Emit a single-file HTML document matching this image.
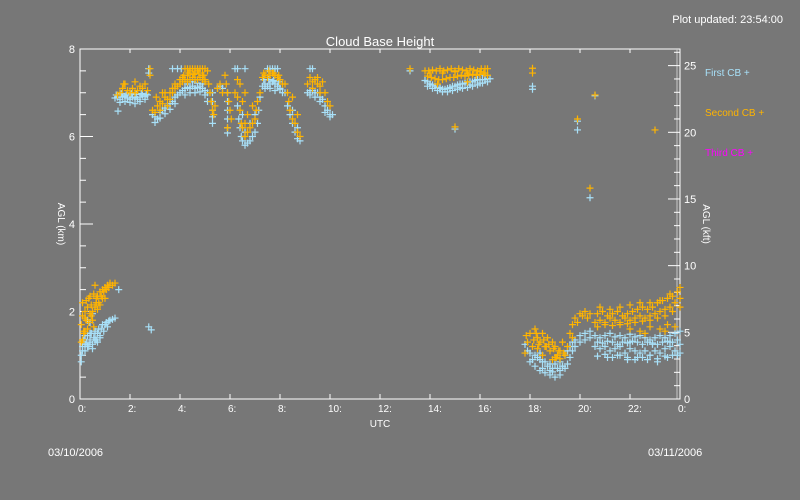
<!DOCTYPE html>
<html><head><meta charset="utf-8"><style>
html,body{margin:0;padding:0;background:#777777;}
svg{display:block;font-family:"Liberation Sans",sans-serif;}
</style></head><body>
<svg id="chart" width="800" height="500" viewBox="0 0 800 500">
<rect x="0" y="0" width="800" height="500" fill="#777777"/>
<text x="783" y="23" fill="#fff" font-size="11" text-anchor="end">Plot updated: 23:54:00</text>
<text x="380" y="46" fill="#fff" font-size="13" text-anchor="middle">Cloud Base Height</text>
<text x="380" y="427" fill="#fff" font-size="10" text-anchor="middle">UTC</text>
<text x="48" y="456" fill="#fff" font-size="11">03/10/2006</text>
<text x="648" y="456" fill="#fff" font-size="11">03/11/2006</text>
<text transform="translate(58,224) rotate(90)" fill="#fff" font-size="10" text-anchor="middle">AGL (km)</text>
<text transform="translate(703,224) rotate(90)" fill="#fff" font-size="10" text-anchor="middle">AGL (kft)</text>
<text x="705" y="76" fill="#a8e0f8" font-size="10">First CB +</text>
<text x="705" y="116" fill="#ffb400" font-size="10">Second CB +</text>
<text x="705" y="156" fill="#ff00ff" font-size="10">Third CB +</text>
<g id="axes"></g>
<g id="marks"></g>
</svg>
<script>
const xTicks=[0,2,4,6,8,10,12,14,16,18,20,22,24];
const xTickLabels=["0:","2:","4:","6:","8:","10:","12:","14:","16:","18:","20:","22:","0:"];
const yTicksKm=[0,2,4,6,8];
const yTicksKft=[0,5,10,15,20,25];
const firstT=[0.05,0.1,0.15,0.2,0.25,0.3,0.35,0.4,0.45,0.5,0.55,0.6,0.65,0.7,0.75,0.8,0.85,0.9,0.95,1.0,1.05,1.1,1.15,1.2,1.3,1.4,0.05,0.3,0.4,0.5,1.55,2.75,2.85,
1.4,1.5,1.6,1.7,1.8,1.9,2.0,2.1,2.2,2.3,2.4,2.5,2.6,2.7,1.6,1.8,2.0,2.2,2.4,2.6,1.52,2.75,2.75,
2.9,3.0,3.1,3.2,3.3,3.4,3.5,3.6,3.7,3.8,3.9,4.0,3.0,3.2,3.4,3.6,3.8,3.7,3.9,4.05,
4.1,4.2,4.3,4.4,4.5,4.6,4.7,4.8,4.9,5.0,4.2,4.4,4.6,4.8,5.0,
5.1,5.1,5.3,5.3,5.3,5.3,5.3,5.5,5.6,5.7,5.9,5.9,5.9,5.9,5.9,5.9,
6.3,6.35,6.4,6.45,6.5,6.6,6.7,6.8,6.9,7.0,7.1,7.15,7.2,6.6,6.8,7.0,6.5,6.2,6.3,6.6,
7.3,7.4,7.5,7.6,7.7,7.8,7.9,8.0,8.1,7.35,7.55,7.75,7.95,7.5,7.6,7.7,7.8,7.9,
8.2,8.3,8.4,8.5,8.6,8.7,8.8,8.5,8.7,
9.1,9.2,9.3,9.4,9.5,9.6,9.7,9.8,9.9,10.0,10.1,9.2,9.4,9.6,9.8,10.0,9.2,9.3,
13.8,13.9,14.0,14.1,14.2,14.3,14.4,14.5,14.6,14.7,14.8,14.9,15.0,15.1,15.2,15.3,15.4,15.5,15.6,15.7,15.8,15.9,16.0,16.1,16.2,16.3,16.4,
13.9,14.1,14.3,14.5,14.7,14.9,15.1,15.3,15.5,15.7,15.9,16.1,16.3,13.2,15.0,16.2,
18.1,18.1,19.9,19.9,20.6,20.4,
17.9,18.0,18.2,18.4,18.6,18.8,19.0,19.2,19.4,19.5,19.6,19.7,19.8,20.0,20.2,20.4,
18.0,18.2,18.4,18.6,18.8,19.0,19.2,19.4,19.5,19.6,19.7,19.8,20.0,20.2,20.4,18.1,18.5,18.9,19.3,17.8,
20.6,20.8,21.0,21.2,21.4,21.6,21.8,22.0,22.2,22.4,22.6,22.8,23.0,23.2,23.4,23.6,23.8,24.0,
20.6,20.8,21.0,21.2,21.4,21.6,21.8,22.0,22.2,22.4,22.6,22.8,23.0,23.2,23.4,23.6,23.8,24.0,
21.1,21.5,21.9,22.3,22.7,23.1,23.5,23.9,22.0,22.9,23.6,
0.1,0.2,0.3,0.4,0.5,0.6,0.7,0.8,0.2,0.4,0.6,
1.45,1.65,1.85,2.05,2.25,2.45,2.65,4.3,4.5,4.7,4.9,7.4,7.6,7.8,8.0,
18.3,18.5,18.7,18.9,19.1,19.3,18.4,18.8,19.2,
20.7,20.9,21.1,21.3,21.5,21.7,21.9,22.1,22.3,22.5,22.7,22.9,23.1,23.3,23.5,23.7,23.9,
20.7,21.0,21.3,21.6,21.9,22.2,22.5,22.8,23.1,23.4,23.7,24.0,
14.0,14.4,14.8,15.2,15.6,16.0];
const firstH=[1.0,1.2,1.35,1.1,1.3,1.45,1.2,1.35,1.5,1.25,1.4,1.55,1.35,1.5,1.6,1.45,1.6,1.7,1.55,1.7,1.75,1.65,1.78,1.8,1.82,1.85,0.85,1.8,1.75,1.95,2.5,1.65,1.58,
6.88,6.9,6.85,6.9,6.92,6.88,6.85,6.9,6.88,6.85,6.9,6.95,6.92,6.95,6.78,6.8,6.78,6.75,6.8,6.85,6.58,7.55,7.45,
6.5,6.45,6.4,6.55,6.6,6.65,6.7,6.75,6.8,6.9,6.95,7.0,6.32,6.42,6.52,6.62,6.75,7.55,7.55,7.55,
7.05,7.1,7.12,7.1,7.15,7.1,7.12,7.15,7.1,7.05,6.95,7.0,7.0,7.02,6.95,
7.0,6.8,7.0,6.8,6.6,6.45,6.3,7.1,7.15,7.1,7.0,6.8,6.6,6.4,6.2,6.08,
6.7,6.4,6.2,6.0,5.9,5.8,5.85,5.9,6.0,6.1,6.3,6.6,6.9,6.1,6.3,6.5,6.5,7.55,7.55,7.55,
7.15,7.2,7.15,7.2,7.25,7.2,7.15,7.1,7.0,7.3,7.3,7.28,7.25,7.55,7.55,7.55,7.55,7.55,
7.0,6.7,6.5,6.3,6.1,5.95,5.9,6.6,6.2,
7.0,7.05,7.05,7.0,7.0,6.9,6.85,6.7,6.6,6.5,6.5,6.95,6.9,6.8,6.55,6.45,7.55,7.55,
7.28,7.25,7.2,7.18,7.15,7.12,7.1,7.08,7.08,7.1,7.12,7.15,7.15,7.18,7.2,7.2,7.22,7.25,7.25,7.25,7.28,7.3,7.3,7.3,7.3,7.32,7.32,
7.15,7.1,7.05,7.02,7.02,7.05,7.08,7.1,7.12,7.15,7.18,7.22,7.25,7.5,6.17,7.4,
7.08,7.15,6.15,6.35,6.93,4.6,
1.1,1.05,1.0,0.9,0.85,0.8,0.8,0.85,1.0,1.1,1.2,1.3,1.35,1.45,1.5,1.55,
0.85,0.75,0.65,0.6,0.55,0.5,0.55,0.7,0.8,0.95,1.1,1.2,1.3,1.35,1.4,0.9,0.7,0.62,0.75,1.25,
1.45,1.4,1.45,1.5,1.42,1.45,1.4,1.48,1.42,1.45,1.4,1.35,1.4,1.45,1.4,1.45,1.5,1.55,
1.2,1.15,1.2,1.1,1.15,1.2,1.05,1.15,1.1,1.05,1.1,1.0,1.1,1.05,1.15,1.2,1.1,1.25,
0.95,1.0,0.9,0.95,0.9,0.85,0.95,1.0,1.3,1.25,1.3,
1.1,1.25,1.2,1.3,1.15,1.35,1.3,1.4,1.45,1.5,1.5,
6.95,6.98,6.95,6.98,6.96,6.98,6.97,7.2,7.25,7.22,7.2,7.1,7.1,7.05,7.08,
0.95,0.85,0.75,0.7,0.7,0.75,1.05,0.65,0.65,
1.3,1.28,1.32,1.3,1.25,1.3,1.28,1.32,1.3,1.25,1.3,1.28,1.25,1.3,1.32,1.3,1.35,
0.98,1.02,0.95,1.0,0.95,0.9,0.95,1.0,0.92,0.98,1.0,1.05,
7.2,7.12,7.1,7.12,7.18,7.22];
const secondT=[0.05,0.05,0.1,0.1,0.15,0.2,0.25,0.3,0.3,0.35,0.4,0.45,0.5,0.5,0.55,0.6,0.65,0.7,0.75,0.8,0.85,0.9,0.95,1.0,1.05,1.1,1.15,1.2,1.3,1.4,0.6,0.1,0.2,0.4,0.25,0.7,0.9,
1.5,1.6,1.7,1.8,1.9,2.0,2.1,2.2,2.3,2.4,2.5,2.6,2.7,1.75,2.2,2.8,2.8,
2.9,3.0,3.1,3.2,3.3,3.4,3.5,3.6,3.7,3.8,3.9,4.0,3.2,3.5,3.05,3.3,3.6,
4.1,4.2,4.3,4.4,4.5,4.6,4.7,4.8,4.9,5.0,4.15,4.35,4.55,4.75,4.95,4.2,4.3,4.4,4.5,4.6,4.7,4.8,4.9,5.0,
5.1,5.15,5.2,5.25,5.3,5.35,5.4,5.0,5.5,5.6,5.7,5.8,5.85,5.9,5.95,6.0,6.05,5.9,
6.2,6.3,6.4,6.45,6.5,6.6,6.7,6.8,6.9,7.0,7.05,7.1,7.2,6.5,6.7,6.9,6.6,6.4,6.3,6.6,
7.3,7.4,7.5,7.6,7.7,7.8,7.9,8.0,8.1,7.35,7.55,7.75,7.95,
8.2,8.3,8.35,8.4,8.5,8.6,8.7,8.8,8.5,8.7,
9.1,9.2,9.3,9.4,9.5,9.6,9.7,9.8,9.9,10.0,9.5,9.3,9.6,
13.8,13.95,14.1,14.25,14.4,14.55,14.7,14.85,15.0,15.15,15.3,15.45,15.6,15.75,15.9,16.05,16.2,
13.9,14.05,14.2,14.35,14.5,14.65,14.8,14.95,15.1,15.25,15.4,15.55,15.7,15.85,16.0,16.15,16.3,
13.2,15.0,16.3,16.2,14.3,15.5,
18.1,18.1,19.9,20.6,20.4,23.0,
17.9,18.0,18.1,18.2,18.3,18.4,18.5,18.6,18.7,18.8,18.9,19.0,19.1,19.2,19.3,19.4,19.5,18.5,18.9,18.3,17.8,17.85,19.0,19.2,
19.6,19.7,19.8,19.9,20.0,20.1,20.2,20.3,20.4,19.7,
20.6,20.8,21.0,21.2,21.4,21.6,21.8,22.0,22.2,22.4,22.6,22.8,23.0,23.2,23.4,23.6,23.8,24.0,
20.7,20.9,21.1,21.3,21.5,21.7,21.9,22.1,22.3,22.5,22.7,22.9,23.1,23.3,23.5,23.7,23.9,
22.0,22.4,22.8,23.2,23.5,23.8,24.0,22.6,23.4,
0.15,0.35,0.55,0.2,0.45,0.65,0.8,1.0,
3.4,3.7,4.0,4.3,4.6,4.9,3.8,4.1,4.4,4.7,
18.15,18.35,18.55,18.75,18.95,19.15,19.35,18.25,18.65,19.05,
20.7,21.0,21.3,21.6,21.9,22.2,22.5,22.8,23.1,23.4,23.7,24.0,
20.8,21.2,21.6,22.0,22.4,22.8,23.2,23.6,
14.0,14.5,15.0,15.5,16.0];
const secondH=[1.3,1.7,1.9,2.2,1.5,2.0,1.8,2.1,1.6,2.3,1.95,2.15,1.8,2.0,2.4,2.1,2.3,2.35,2.2,2.45,2.35,2.5,2.45,2.55,2.5,2.6,2.55,2.65,2.6,2.65,2.6,1.35,1.55,2.35,2.25,2.05,2.3,
6.95,7.0,7.1,7.2,7.05,7.0,7.1,7.0,7.05,7.15,7.1,7.2,7.05,7.2,7.25,7.55,7.4,
6.6,6.55,6.7,6.8,6.75,6.9,6.85,7.0,7.0,7.1,7.15,7.2,6.6,6.7,6.9,7.0,6.85,
7.25,7.3,7.25,7.3,7.35,7.3,7.3,7.35,7.3,7.25,7.4,7.45,7.42,7.45,7.4,7.55,7.55,7.55,7.55,7.55,7.55,7.55,7.55,7.55,
7.5,7.2,7.0,6.8,6.6,6.5,6.7,7.3,7.1,7.2,7.0,7.4,7.2,7.0,6.8,6.6,6.4,6.2,
7.0,6.9,6.6,6.3,6.2,6.0,6.1,6.2,6.3,6.4,6.6,6.8,7.0,6.8,6.5,6.7,7.0,7.2,7.3,6.3,
7.35,7.4,7.35,7.4,7.45,7.4,7.35,7.3,7.2,7.45,7.5,7.45,7.4,
7.2,7.0,6.8,6.6,6.4,6.3,6.1,6.0,6.9,6.5,
7.2,7.35,7.25,7.3,7.2,7.15,7.25,7.0,6.8,6.7,7.35,7.1,7.0,
7.5,7.5,7.52,7.5,7.55,7.5,7.52,7.55,7.5,7.55,7.52,7.5,7.55,7.52,7.5,7.55,7.55,
7.38,7.35,7.32,7.3,7.3,7.32,7.35,7.35,7.38,7.4,7.38,7.4,7.42,7.4,7.42,7.45,7.4,
7.55,6.22,7.55,7.45,7.2,7.25,
7.56,7.45,6.4,6.95,4.82,6.15,
1.3,1.5,1.2,1.6,1.4,1.3,1.5,1.2,1.4,1.1,1.3,1.2,1.0,1.1,1.3,1.0,1.2,1.0,0.9,1.15,1.05,1.45,0.95,0.92,
1.5,1.7,1.85,1.75,1.95,1.9,2.0,1.85,1.95,1.4,
1.75,1.8,1.75,1.85,1.8,1.75,1.85,1.8,1.85,1.9,1.85,1.9,1.95,2.0,2.05,2.1,2.2,2.3,
1.95,2.0,1.9,1.95,2.0,1.9,1.95,2.0,2.05,2.1,2.05,2.1,2.2,2.25,2.3,2.35,2.45,
1.6,1.55,1.65,1.6,1.7,1.65,2.55,1.5,1.55,
1.55,1.75,1.65,1.85,1.9,2.2,2.15,2.3,
7.0,7.1,7.3,7.4,7.45,7.4,7.2,7.35,7.5,7.5,
1.35,1.25,1.35,1.25,1.15,1.1,1.05,1.5,1.2,0.95,
1.65,1.7,1.68,1.7,1.72,1.75,1.78,1.8,1.85,1.9,2.0,2.1,
2.1,2.05,2.1,2.15,2.2,2.2,2.25,2.4,
7.45,7.45,7.48,7.45,7.48];
const thirdT=[];
const thirdH=[];

const X0=80,X1=680,Y0=399,Y1=49;
function xScale(t){return X0+(X1-X0)*t/24;}
function yScale(km){return Y0-(Y0-Y1)*km/8;}
function yScaleKft(k){return yScale(k*0.3048);}
const NS="http://www.w3.org/2000/svg";
const axes=document.getElementById('axes');
const marks=document.getElementById('marks');
function mk(tag,attrs,parent){const e=document.createElementNS(NS,tag);for(const k in attrs)e.setAttribute(k,attrs[k]);parent.appendChild(e);return e;}

let e;
e=mk('rect',{x:X0,y:Y1,width:X1-X0,height:Y0-Y1,fill:'none',stroke:'#fff','stroke-width':1},axes);


e=mk('line',{x1:677,y1:Y1,x2:677,y2:Y0,stroke:'#c8c8c8','stroke-width':1},axes);


xTicks.forEach((t,i)=>{
  const x=xScale(t);
  let l=mk('line',{x1:x,y1:Y0,x2:x,y2:Y0-5,stroke:'#fff'},axes);
  
  
  l=mk('line',{x1:x,y1:Y1,x2:x,y2:Y1+4,stroke:'#fff'},axes);
  
  
  const tx=mk('text',{x:x-2,y:Y0+13,fill:'#fff','font-size':10},axes);
  tx.textContent=xTickLabels[i];
  
  
});
for(let k=0;k<=16;k++){
  const y=yScale(k*0.5);
  const len=(k%4===0)?13:6;
  const l=mk('line',{x1:X0,y1:y,x2:X0+len,y2:y,stroke:'#fff'},axes);
  
  
}
yTicksKm.forEach(v=>{
  const tx=mk('text',{x:75,y:yScale(v)+4,fill:'#fff','font-size':11,'text-anchor':'end'},axes);
  tx.textContent=String(v);
  
  
});
for(let k=0;k<=26;k++){
  const y=yScaleKft(k);
  const len=(k%5===0)?12:6;
  const l=mk('line',{x1:X1,y1:y,x2:X1-len,y2:y,stroke:'#fff'},axes);
  
  
}
yTicksKft.forEach(v=>{
  const tx=mk('text',{x:684,y:yScaleKft(v)+4,fill:'#fff','font-size':11},axes);
  tx.textContent=String(v);
  
  
});
function plotSeries(T,H,color,name){
  const g=mk('g',{stroke:color,'stroke-width':1.2},marks);
  
  
  for(let i=0;i<T.length;i++){
    const x=xScale(T[i]),y=yScale(H[i]);
    const p=mk('path',{d:`M${x-3.5} ${y}H${x+3.5}M${x} ${y-3.5}V${y+3.5}`},g);
    
    
  }
}
plotSeries(firstT,firstH,'#a8e0f8','first-cb-series');
plotSeries(secondT,secondH,'#ffb400','second-cb-series');
plotSeries(thirdT,thirdH,'#ff00ff','third-cb-series');
</script>
</body></html>
